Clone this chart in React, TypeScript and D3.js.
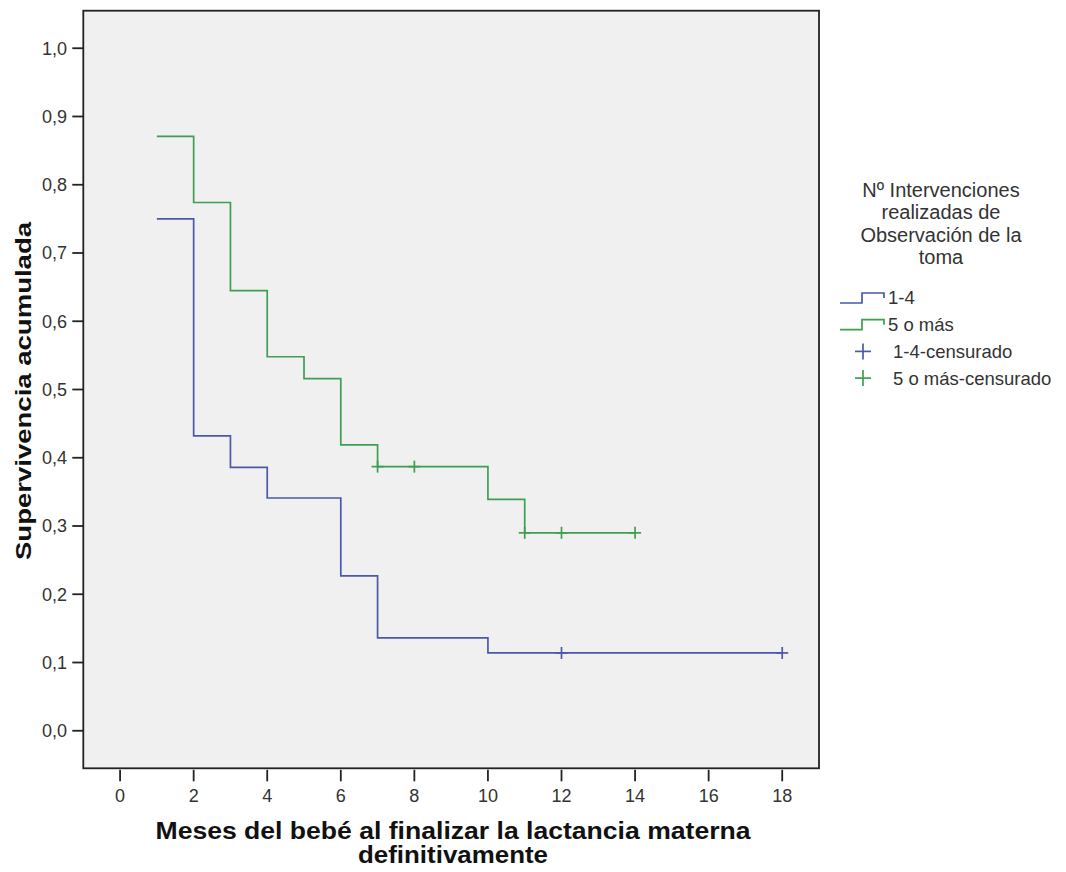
import React from "react";
import * as d3 from "d3";

// ---- Data ----
const groupLabels = ["1-4", "5 o más"];
const censoredLabels = ["1-4-censurado", "5 o más-censurado"];
const legendTitle = ["Nº Intervenciones", "realizadas de", "Observación de la", "toma"];

const g1Times = [1, 2, 3, 4, 6, 7, 10];
const g1Surv = [0.75, 0.432, 0.386, 0.341, 0.227, 0.136, 0.114];
const g1End = 18;
const g1Censored = [12, 18];

const g2Times = [1, 2, 3, 4, 5, 6, 7, 10, 11];
const g2Surv = [0.871, 0.774, 0.645, 0.548, 0.516, 0.419, 0.387, 0.339, 0.29];
const g2End = 14;
const g2Censored = [7, 8, 11, 12, 14];

const xTicks = [0, 2, 4, 6, 8, 10, 12, 14, 16, 18];
const yTicks = [0, 0.1, 0.2, 0.3, 0.4, 0.5, 0.6, 0.7, 0.8, 0.9, 1.0];

const xTitle = ["Meses del bebé al finalizar la lactancia materna", "definitivamente"];
const yTitle = "Supervivencia acumulada";

const colors = ["#4b59a6", "#3f9e52"];
const FONT = "'Liberation Sans', Arial, sans-serif";

export default function App() {
  const W = 1066, H = 872;
  const left = 83.3, right = 819, top = 10.7, bottom = 768.3;
  const x = d3.scaleLinear().domain([-1, 19]).range([left, right]);
  const y = d3.scaleLinear().domain([-0.055, 1.055]).range([bottom, top]);

  const fmt = (v: number) => d3.format(".1f")(v).replace(".", ",");

  const groups = [
    { times: g1Times, surv: g1Surv, end: g1End, cens: g1Censored, color: colors[0] },
    { times: g2Times, surv: g2Surv, end: g2End, cens: g2Censored, color: colors[1] },
  ];

  const line = d3
    .line<[number, number]>()
    .x((d) => x(d[0]))
    .y((d) => y(d[1]))
    .curve(d3.curveStepAfter);

  const survAt = (times: number[], surv: number[], t: number) => {
    let s = surv[0];
    for (let i = 0; i < times.length; i++) if (times[i] <= t) s = surv[i];
    return s;
  };

  const crossSize = 6;
  const legendCx = 941;

  return (
    <svg
      width={W}
      height={H}
      style={{ position: "absolute", left: 0, top: 0, background: "#fff" }}
      fontFamily={FONT}
    >
      <rect x={0} y={0} width={W} height={H} fill="#fff" />
      <rect x={left} y={top} width={right - left} height={bottom - top} fill="#f0f0f0" />

      {groups.map((g, gi) => {
        const pts: [number, number][] = g.times.map((t, i) => [t, g.surv[i]] as [number, number]);
        pts.push([g.end, g.surv[g.surv.length - 1]]);
        return (
          <g key={gi}>
            <path d={line(pts) || ""} fill="none" stroke={g.color} strokeWidth={1.7} />
            {g.cens.map((c, ci) => {
              const cx = x(c);
              const cy = y(survAt(g.times, g.surv, c));
              return (
                <g key={ci} stroke={g.color} strokeWidth={1.7}>
                  <line x1={cx - crossSize} x2={cx + crossSize} y1={cy} y2={cy} />
                  <line x1={cx} x2={cx} y1={cy - crossSize} y2={cy + crossSize} />
                </g>
              );
            })}
          </g>
        );
      })}

      <rect x={left} y={top} width={right - left} height={bottom - top} fill="none" stroke="#222" strokeWidth={1.8} />

      {yTicks.map((t) => (
        <g key={t}>
          <line x1={left - 11} x2={left} y1={y(t)} y2={y(t)} stroke="#222" strokeWidth={1.8} />
          <text x={67} y={y(t)} dy="0.35em" textAnchor="end" fontSize={18} fill="#333">
            {fmt(t)}
          </text>
        </g>
      ))}
      {xTicks.map((t) => (
        <g key={t}>
          <line x1={x(t)} x2={x(t)} y1={bottom + 1.5} y2={bottom + 13} stroke="#222" strokeWidth={1.8} />
          <text x={x(t)} y={796} dy="0.35em" textAnchor="middle" fontSize={18} fill="#333">
            {t}
          </text>
        </g>
      ))}

      <text
        x={453}
        y={831}
        dy="0.35em"
        textAnchor="middle"
        fontSize={23}
        fontWeight="bold"
        fill="#111"
        textLength={595}
        lengthAdjust="spacingAndGlyphs"
      >
        {xTitle[0]}
      </text>
      <text
        x={453}
        y={855}
        dy="0.35em"
        textAnchor="middle"
        fontSize={23}
        fontWeight="bold"
        fill="#111"
        textLength={190}
        lengthAdjust="spacingAndGlyphs"
      >
        {xTitle[1]}
      </text>
      <text
        transform={`translate(23, 391) rotate(-90)`}
        dy="0.35em"
        textAnchor="middle"
        fontSize={22}
        fontWeight="bold"
        fill="#111"
        textLength={338}
        lengthAdjust="spacingAndGlyphs"
      >
        {yTitle}
      </text>

      {legendTitle.map((s, i) => (
        <text key={i} x={legendCx} y={190 + i * 22.3} dy="0.35em" textAnchor="middle" fontSize={20} fill="#333">
          {s}
        </text>
      ))}
      {groupLabels.map((s, i) => {
        const ly = 298 + i * 26.7;
        return (
          <g key={s}>
            <path
              d={`M840,${ly + 5}H862V${ly - 5}H884V${ly}`}
              fill="none"
              stroke={colors[i]}
              strokeWidth={1.7}
            />
            <text x={888} y={ly} dy="0.35em" fontSize={18.5} fill="#333">
              {s}
            </text>
          </g>
        );
      })}
      {censoredLabels.map((s, i) => {
        const ly = 298 + (i + 2) * 26.7;
        return (
          <g key={s}>
            <g stroke={colors[i]} strokeWidth={1.7}>
              <line x1={863 - 8} x2={863 + 8} y1={ly} y2={ly} />
              <line x1={863} x2={863} y1={ly - 8} y2={ly + 8} />
            </g>
            <text x={893} y={ly} dy="0.35em" fontSize={18.5} fill="#333">
              {s}
            </text>
          </g>
        );
      })}
    </svg>
  );
}
